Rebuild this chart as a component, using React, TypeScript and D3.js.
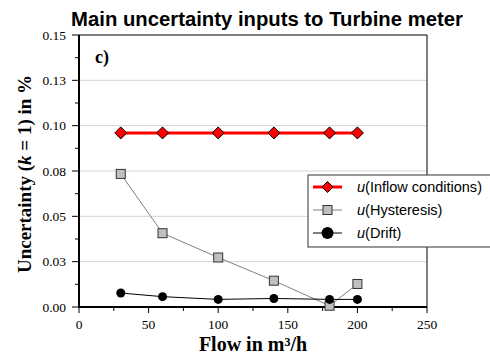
import React from "react";
import * as d3 from "d3";

const flows = [30, 60, 100, 140, 180, 200];
const inflow = [0.096, 0.096, 0.096, 0.096, 0.096, 0.096];
const hysteresis = [0.0734, 0.0407, 0.0273, 0.0145, 0.0007, 0.0127];
const drift = [0.0077, 0.0057, 0.0042, 0.0047, 0.0042, 0.0042];
const yTicks = [0, 0.025, 0.05, 0.075, 0.1, 0.125, 0.15];
const yTickLabels = ["0.00", "0.03", "0.05", "0.08", "0.10", "0.13", "0.15"];
const yMinor = [0.0125, 0.0375, 0.0625, 0.0875, 0.1125, 0.1375];
const xTicks = [0, 50, 100, 150, 200, 250];
const xMinor = [25, 75, 125, 175, 225];

export default function App() {
  const W = 490, H = 354;
  const L = 79, R = 427, T = 35, B = 307;
  const x = d3.scaleLinear().domain([0, 250]).range([L, R]);
  const y = d3.scaleLinear().domain([0, 0.15]).range([B, T]);
  const line = (vals: number[]) =>
    d3.line<number>().x((_, i) => x(flows[i])).y((v) => y(v))(vals) || "";
  const serif = "'Liberation Serif', 'Times New Roman', serif";
  const sans = "'Liberation Sans', Arial, sans-serif";
  const diamond = (cx: number, cy: number, s: number) =>
    `M${cx},${cy - s}L${cx + s},${cy}L${cx},${cy + s}L${cx - s},${cy}Z`;
  const lx0 = 313, lx1 = 342, lxm = 327.5, ltx = 357;
  const rows = [187, 210, 233];
  return (
    <svg width={W} height={H} style={{ position: "absolute", left: 0, top: 0 }}>
      <rect width={W} height={H} fill="#fff" />
      <text x={267} y={26} textAnchor="middle" fontFamily={sans} fontWeight="bold" fontSize={20.3}>
        Main uncertainty inputs to Turbine meter
      </text>
      {yTicks.slice(1, -1).map((t) => (
        <line key={"g" + t} x1={L} x2={R} y1={y(t)} y2={y(t)} stroke="#d4d4d4" strokeWidth={1} />
      ))}
      {/* frame */}
      <line x1={L} x2={R} y1={T} y2={T} stroke="#000" strokeWidth={1} />
      <line x1={R} x2={R} y1={T} y2={B} stroke="#000" strokeWidth={1} />
      <line x1={L} x2={L} y1={T} y2={B + 1} stroke="#000" strokeWidth={2} />
      <line x1={L - 1} x2={R} y1={B} y2={B} stroke="#000" strokeWidth={2} />
      {yTicks.map((t, i) => (
        <g key={"y" + t}>
          <line x1={L - 7} x2={L} y1={y(t)} y2={y(t)} stroke="#000" />
          <text x={66} y={y(t) + 4.5} textAnchor="end" fontFamily={serif} fontSize={13.5}>
            {yTickLabels[i]}
          </text>
        </g>
      ))}
      {yMinor.map((t) => (
        <line key={"ym" + t} x1={L - 4} x2={L} y1={y(t)} y2={y(t)} stroke="#000" />
      ))}
      {xTicks.map((t) => (
        <g key={"x" + t}>
          <line x1={x(t)} x2={x(t)} y1={B} y2={B + 6} stroke="#000" />
          <text x={x(t)} y={329} textAnchor="middle" fontFamily={serif} fontSize={13.5}>
            {t}
          </text>
        </g>
      ))}
      {xMinor.map((t) => (
        <line key={"xm" + t} x1={x(t)} x2={x(t)} y1={B} y2={B + 4} stroke="#000" />
      ))}
      <text x={253} y={351} textAnchor="middle" fontFamily={serif} fontWeight="bold" fontSize={20}>
        Flow in m³/h
      </text>
      <text
        transform={`translate(31,174) rotate(-90)`}
        textAnchor="middle"
        fontFamily={serif}
        fontWeight="bold"
        fontSize={19}
      >
        Uncertainty (<tspan fontStyle="italic">k</tspan> = 1) in %
      </text>
      <text x={95} y={63} fontFamily={serif} fontWeight="bold" fontSize={18}>
        c)
      </text>
      {/* series */}
      <path d={line(hysteresis)} fill="none" stroke="#808080" strokeWidth={1} />
      {hysteresis.map((v, i) => (
        <rect key={"h" + i} x={x(flows[i]) - 4.5} y={y(v) - 4.5} width={9} height={9} fill="#c0c0c0" stroke="#333" strokeWidth={1} />
      ))}
      <path d={line(drift)} fill="none" stroke="#000" strokeWidth={1} />
      {drift.map((v, i) => (
        <circle key={"d" + i} cx={x(flows[i])} cy={y(v)} r={4.5} fill="#000" />
      ))}
      <path d={line(inflow)} fill="none" stroke="#ff0000" strokeWidth={3} />
      {inflow.map((v, i) => (
        <path key={"f" + i} d={diamond(x(flows[i]), y(v), 6)} fill="#ff0000" stroke="#000" strokeWidth={1} />
      ))}
      {/* legend */}
      <rect x={308} y={175} width={190} height={72} fill="#fff" stroke="#333" strokeWidth={1} />
      <line x1={lx0} x2={lx1} y1={rows[0]} y2={rows[0]} stroke="#ff0000" strokeWidth={3} />
      <path d={diamond(lxm, rows[0], 5.5)} fill="#ff0000" stroke="#000" />
      <line x1={lx0} x2={lx1} y1={rows[1]} y2={rows[1]} stroke="#808080" strokeWidth={1} />
      <rect x={lxm - 4.5} y={rows[1] - 4.5} width={9} height={9} fill="#c0c0c0" stroke="#333" />
      <line x1={lx0} x2={lx1} y1={rows[2]} y2={rows[2]} stroke="#000" strokeWidth={1} />
      <circle cx={lxm} cy={rows[2]} r={6} fill="#000" />
      {["Inflow conditions", "Hysteresis", "Drift"].map((s, i) => (
        <text key={s} x={ltx} y={rows[i] + 5} fontFamily={sans} fontSize={14.5}>
          <tspan fontStyle="italic">u</tspan>({s})
        </text>
      ))}
    </svg>
  );
}
